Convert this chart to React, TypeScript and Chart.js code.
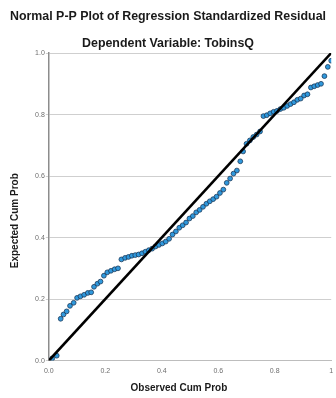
import React, { useEffect, useRef } from "react";
import { Chart, registerables } from "chart.js";

Chart.register(...registerables);

const NB = "\u00A0";
const titleText = "Normal P-P Plot of Regression Standardized Residual";
const subtitleText = "Dependent Variable: TobinsQ";
const xAxisTitle = "Observed Cum Prob";
const yAxisTitle = "Expected Cum Prob";

const xTickValues = [0, 0.2, 0.4, 0.6, 0.8, 1.0];
const xTickLabels = ["0.0", "0.2", "0.4", "0.6", "0.8", "1"];
const yTickValues = [0, 0.2, 0.4, 0.6, 0.8, 1.0];
const yTickLabels = ["0.0", "0.2", "0.4", "0.6", "0.8", "1.0"];

const observedCumProb = [
  0.012, 0.028, 0.042, 0.052, 0.063, 0.075, 0.088, 0.1, 0.112, 0.125,
  0.138, 0.15, 0.16, 0.172, 0.183, 0.195, 0.207, 0.22, 0.233, 0.245,
  0.257, 0.27, 0.282, 0.294, 0.306, 0.318, 0.33, 0.342, 0.354, 0.366,
  0.378, 0.39, 0.402, 0.414, 0.426, 0.438, 0.45, 0.462, 0.474, 0.486,
  0.498, 0.51, 0.522, 0.534, 0.546, 0.558, 0.57, 0.582, 0.594, 0.606,
  0.618, 0.63, 0.642, 0.654, 0.666, 0.678, 0.688, 0.7, 0.712, 0.724,
  0.736, 0.748, 0.76, 0.772, 0.784, 0.796, 0.808, 0.82, 0.832, 0.844,
  0.856, 0.868, 0.88, 0.892, 0.904, 0.916, 0.928, 0.94, 0.952, 0.964,
  0.976, 0.988, 1.0,
];
const expectedCumProb = [
  0.007, 0.016, 0.136, 0.15, 0.16, 0.178, 0.188, 0.204, 0.209, 0.214,
  0.22, 0.222, 0.24, 0.25, 0.257, 0.276, 0.287, 0.292, 0.297, 0.3,
  0.329, 0.334, 0.337, 0.341, 0.343, 0.345, 0.349, 0.354, 0.359, 0.364,
  0.371, 0.376, 0.381, 0.387, 0.396, 0.41, 0.42, 0.432, 0.44, 0.449,
  0.462, 0.47, 0.482, 0.49, 0.5, 0.51, 0.518, 0.525, 0.533, 0.545,
  0.556, 0.578, 0.592, 0.608, 0.618, 0.648, 0.68, 0.705, 0.716, 0.727,
  0.735, 0.745, 0.795, 0.798, 0.804, 0.809, 0.812, 0.818, 0.822, 0.828,
  0.834, 0.84, 0.848, 0.852, 0.862, 0.866, 0.888, 0.892, 0.896, 0.9,
  0.925, 0.955, 0.975,
];
const referenceLineX = [0, 1];
const referenceLineY = [0, 1];

const FONT = "'Liberation Sans', Arial, sans-serif";

export default function App() {
  const canvasRef = useRef<HTMLCanvasElement | null>(null);

  useEffect(() => {
    const canvas = canvasRef.current;
    if (!canvas) return;
    const points = observedCumProb.map((x, i) => ({ x, y: expectedCumProb[i] }));
    const line = referenceLineX.map((x, i) => ({ x, y: referenceLineY[i] }));
    const chart = new Chart(canvas, {
      type: "scatter",
      data: {
        datasets: [
          {
            type: "line",
            data: line,
            borderColor: "#000000",
            borderWidth: 2.6,
            pointRadius: 0,
            fill: false,
            order: 0,
          } as any,
          {
            data: points,
            backgroundColor: "#2f98dc",
            borderColor: "#1b3a5a",
            borderWidth: 0.8,
            pointRadius: 2.4,
            order: 1,
          },
        ],
      },
      options: {
        animation: false,
        responsive: false,
        layout: { padding: { left: 0, right: 0, top: 0, bottom: 0 } },
        plugins: {
          legend: { display: false },
          tooltip: { enabled: false },
          title: {
            display: true,
            text: titleText,
            color: "#1a1a1a",
            font: { family: FONT, size: 12.4, weight: "bold" },
            padding: { top: 9.3, bottom: 0 },
          },
          subtitle: {
            display: true,
            text: subtitleText,
            color: "#1a1a1a",
            font: { family: FONT, size: 12.4, weight: "bold" },
            padding: { top: 11.7, bottom: 2.3 },
          },
        },
        scales: {
          x: {
            type: "linear",
            min: 0,
            max: 1,
            afterBuildTicks: (axis: any) => {
              axis.ticks = xTickValues.map((v) => ({ value: v }));
            },
            ticks: {
              callback: (v: any) => {
                const i = xTickValues.findIndex((t) => Math.abs(t - Number(v)) < 1e-9);
                return i >= 0 ? xTickLabels[i] : "";
              },
              color: "#6e6e6e",
              font: { family: FONT, size: 7 },
              padding: 0,
              maxRotation: 0,
            },
            grid: {
              display: true,
              drawOnChartArea: false,
              drawTicks: true,
              tickLength: 6,
              color: "rgba(0,0,0,0)",
            },
            border: { display: true, color: "#bdbdbd", width: 1 },
            title: {
              display: true,
              text: xAxisTitle + NB.repeat(8),
              color: "#1a1a1a",
              font: { family: FONT, size: 10, weight: "bold" },
              padding: { top: 7, bottom: 4 },
            },
          },
          y: {
            type: "linear",
            min: 0,
            max: 1,
            afterBuildTicks: (axis: any) => {
              axis.ticks = yTickValues.map((v) => ({ value: v }));
            },
            ticks: {
              callback: (v: any) => {
                const i = yTickValues.findIndex((t) => Math.abs(t - Number(v)) < 1e-9);
                return i >= 0 ? yTickLabels[i] : "";
              },
              color: "#6e6e6e",
              font: { family: FONT, size: 7 },
              padding: 1,
            },
            grid: {
              display: true,
              color: "#cfcfcf",
              lineWidth: 1,
              drawTicks: true,
              tickLength: 3,
            },
            border: { display: true, color: "#8c8c8c", width: 1.5 },
            title: {
              display: true,
              text: yAxisTitle + NB.repeat(10),
              color: "#1a1a1a",
              font: { family: FONT, size: 10, weight: "bold" },
              padding: { top: 9, bottom: 13.1 },
            },
          },
        },
      },
    });
    return () => chart.destroy();
  }, []);

  return (
    <div
      style={{
        position: "absolute",
        left: 0,
        top: 0,
        width: 336,
        height: 398,
        overflow: "hidden",
        background: "#ffffff",
      }}
    >
      <canvas
        ref={canvasRef}
        width={336}
        height={398}
        style={{ display: "block", width: 336, height: 398 }}
      />
    </div>
  );
}
